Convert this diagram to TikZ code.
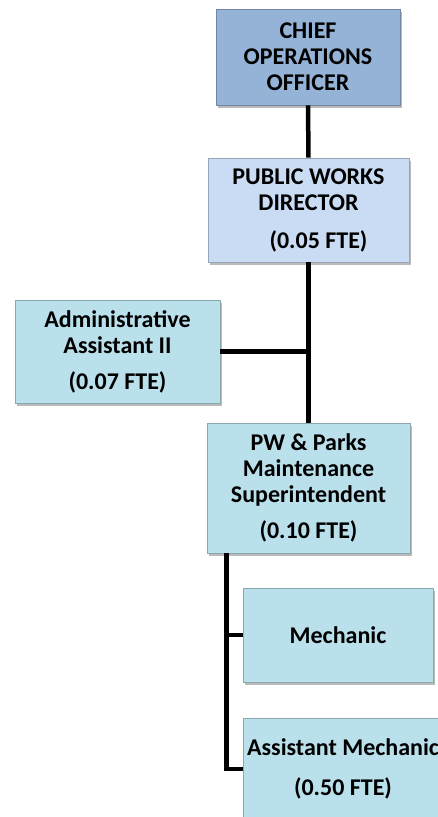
\documentclass[tikz,border=0pt]{standalone}
\usepackage{fontspec}
\setmainfont{Carlito}
\usetikzlibrary{shadows}
\definecolor{cooblue}{HTML}{95B3D7}
\definecolor{pwdblue}{HTML}{C9DCF3}
\definecolor{staffcyan}{HTML}{B9E0EB}
\begin{document}
\begin{tikzpicture}[x=1pt,y=-1pt,
	boxstyle/.style={rectangle,draw=#1!75!black,line width=0.6pt,fill=#1,align=center,
		font=\fontsize{24}{26}\selectfont\bfseries,inner sep=0pt,
		drop shadow={shadow xshift=2pt,shadow yshift=-3pt,fill=black!45,opacity=0.6}},
	linkstyle/.style={line width=4.5pt}]
\useasboundingbox (0,0) rectangle (438,817);
\node[boxstyle=cooblue,minimum width=184,minimum height=96] (coo) at (308,57)
	{CHIEF\\OPERATIONS\\OFFICER};
\node[boxstyle=pwdblue,minimum width=201,minimum height=104] (pwd) at (308.5,210)
	{PUBLIC WORKS\\DIRECTOR\\[12pt]\hspace*{20pt}(0.05 FTE)};
\node[boxstyle=staffcyan,minimum width=205,minimum height=103] (admin) at (117.5,351.5)
	{Administrative\\Assistant II\\[10pt](0.07 FTE)};
\node[boxstyle=staffcyan,minimum width=203,minimum height=130] (pwp) at (308.5,488)
	{PW \& Parks\\Maintenance\\Superintendent\\[10pt](0.10 FTE)};
\node[boxstyle=staffcyan,minimum width=190,minimum height=94] (mech) at (338,635)
	{Mechanic};
\node[boxstyle=staffcyan,minimum width=200,minimum height=102] (asst) at (343,769)
	{Assistant Mechanic\\[14pt](0.50 FTE)};
\coordinate (branch) at ([xshift=20pt]pwp.south west);
\draw[linkstyle] (coo.south) -- (pwd.north);
\draw[linkstyle] (pwd.south) -- (pwp.north);
\draw[linkstyle] (admin.east) -- (pwd.south |- admin.east);
\draw[linkstyle] (branch) |- (mech.west);
\draw[linkstyle] (branch) |- (asst.west);
\end{tikzpicture}
\end{document}
